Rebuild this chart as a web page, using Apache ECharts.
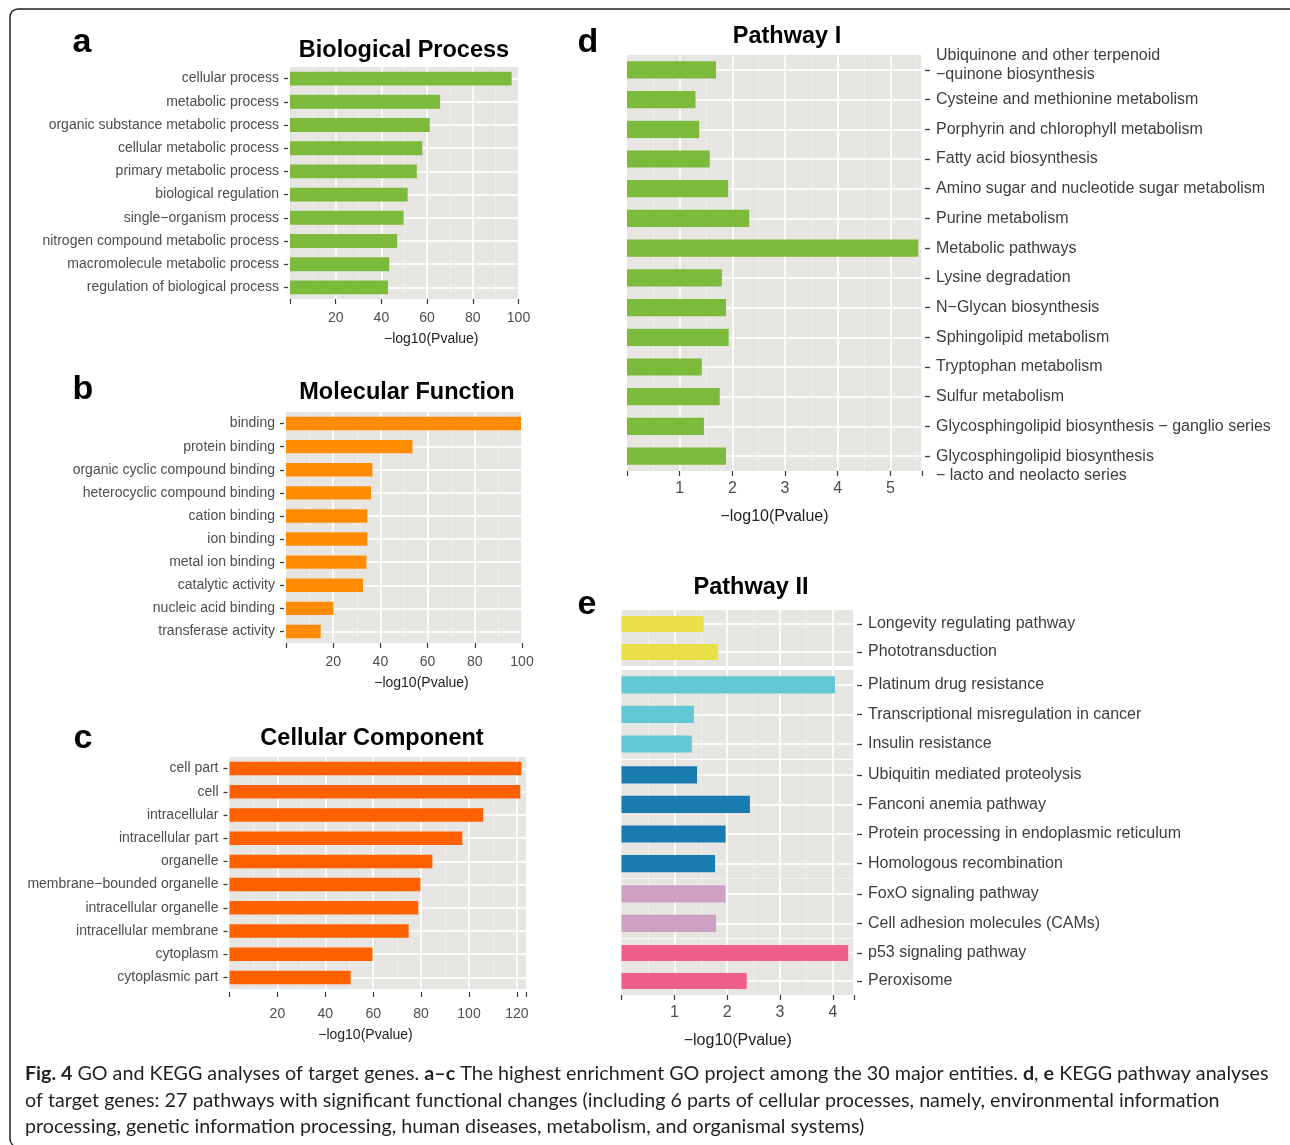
<!DOCTYPE html>
<html>
<head>
<meta charset="utf-8">
<script src="https://cdn.jsdelivr.net/npm/echarts@6/dist/echarts.min.js"></script>
<style>
  html, body { margin: 0; padding: 0; background: #ffffff; }
  #chart { width: 1290px; height: 1145px; }
</style>
</head>
<body>
<div id="chart"></div>
<script>
  // a - Biological Process
  const bpNames = ['cellular process', 'metabolic process', 'organic substance metabolic process', 'cellular metabolic process', 'primary metabolic process', 'biological regulation', 'single−organism process', 'nitrogen compound metabolic process', 'macromolecule metabolic process', 'regulation of biological process']
  const bpValues = [97.0, 65.7, 61.1, 57.9, 55.5, 51.5, 49.7, 46.9, 43.4, 42.9]

  // b - Molecular Function
  const mfNames = ['binding', 'protein binding', 'organic cyclic compound binding', 'heterocyclic compound binding', 'cation binding', 'ion binding', 'metal ion binding', 'catalytic activity', 'nucleic acid binding', 'transferase activity']
  const mfValues = [99.6, 53.6, 36.6, 36.0, 34.5, 34.5, 34.1, 32.6, 20.1, 14.7]

  // c - Cellular Component
  const ccNames = ['cell part', 'cell', 'intracellular', 'intracellular part', 'organelle', 'membrane−bounded organelle', 'intracellular organelle', 'intracellular membrane', 'cytoplasm', 'cytoplasmic part']
  const ccValues = [121.9, 121.4, 105.9, 97.2, 84.7, 79.7, 78.8, 74.8, 59.7, 50.6]

  // d - Pathway I
  const p1Names = ['Ubiquinone and other terpenoid\n−quinone biosynthesis', 'Cysteine and methionine metabolism', 'Porphyrin and chlorophyll metabolism', 'Fatty acid biosynthesis', 'Amino sugar and nucleotide sugar metabolism', 'Purine metabolism', 'Metabolic pathways', 'Lysine degradation', 'N−Glycan biosynthesis', 'Sphingolipid metabolism', 'Tryptophan metabolism', 'Sulfur metabolism', 'Glycosphingolipid biosynthesis − ganglio series', 'Glycosphingolipid biosynthesis\n− lacto and neolacto series']
  const p1Values = [1.69, 1.30, 1.37, 1.57, 1.92, 2.32, 5.53, 1.80, 1.88, 1.93, 1.42, 1.76, 1.46, 1.88]

  // e - Pathway II (grouped in facets)
  const p2Names = ['Longevity regulating pathway', 'Phototransduction', 'Platinum drug resistance', 'Transcriptional misregulation in cancer', 'Insulin resistance', 'Ubiquitin mediated proteolysis', 'Fanconi anemia pathway', 'Protein processing in endoplasmic reticulum', 'Homologous recombination', 'FoxO signaling pathway', 'Cell adhesion molecules (CAMs)', 'p53 signaling pathway', 'Peroxisome']
  const p2Values = [1.55, 1.83, 4.04, 1.37, 1.33, 1.43, 2.43, 1.97, 1.77, 1.97, 1.79, 4.29, 2.37]
  const p2Groups = [0, 0, 1, 1, 1, 2, 2, 2, 2, 3, 3, 4, 4]

  // tick labels
  const goTicks = [20, 40, 60, 80, 100]
  const ccTicks = [20, 40, 60, 80, 100, 120]
  const p1Ticks = [1, 2, 3, 4, 5]
  const p2Ticks = [1, 2, 3, 4]

  const FONT = "'Liberation Sans', Arial, sans-serif"
  const TEXT = '#4d4d4d'
  const PANEL_BG = '#e6e5e2'
  const TICK = '#3a3a3a'
  const p2Colors = ['#e8e046', '#62c8d6', '#1a7bb1', '#cea0c1', '#ef5f8a']

  const option = {
    animation: false,
    grid: [],
    xAxis: [],
    yAxis: [],
    series: [],
    graphic: []
  }

  function addPanel(p) {
    const i = option.grid.length
    const right = p.side === 'right'
    option.grid.push({
      left: p.left,
      top: p.top,
      width: p.width,
      height: p.height,
      show: true,
      backgroundColor: PANEL_BG,
      borderWidth: 0,
      containLabel: false,
      outerBoundsMode: 'none'
    })
    const showX = p.showX !== false
    option.xAxis.push({
      gridIndex: i,
      type: 'value',
      min: 0,
      max: p.max,
      interval: p.ticks[1] - p.ticks[0],
      offset: p.xOffset || 0,
      name: showX ? '−log10(Pvalue)' : '',
      nameLocation: 'middle',
      nameGap: p.nameGap,
      nameTextStyle: {
        color: '#222',
        fontSize: p.fontSize,
        fontFamily: FONT,
        padding: p.namePad || 0
      },
      axisLine: { show: false, onZero: false },
      axisTick: {
        show: showX,
        length: 5,
        lineStyle: { color: TICK, width: 1.2 }
      },
      axisLabel: {
        show: showX,
        color: TEXT,
        fontSize: p.fontSize,
        fontFamily: FONT,
        margin: p.labelMargin,
        formatter: function (v) {
          return p.ticks.indexOf(Math.round(v * 1000) / 1000) >= 0 ? String(v) : ''
        }
      },
      splitLine: {
        show: true,
        showMinLine: false,
        lineStyle: { color: '#ffffff', width: 1.6 }
      },
      minorTick: { show: false, splitNumber: 2 },
      minorSplitLine: {
        show: true,
        lineStyle: { color: '#f1f1ef', width: 0.8 }
      }
    })
    option.yAxis.push({
      gridIndex: i,
      type: 'category',
      data: p.names,
      inverse: true,
      position: p.side,
      offset: right ? 3 : 2,
      axisLine: { show: false, onZero: false },
      axisTick: {
        show: true,
        inside: false,
        alignWithLabel: true,
        length: right ? 5 : 4,
        lineStyle: { color: TICK, width: 1.3 }
      },
      axisLabel: {
        color: right ? '#3d3d3d' : TEXT,
        fontSize: p.labelSize,
        fontFamily: FONT,
        margin: right ? 11 : 9,
        lineHeight: 19,
        interval: 0,
        formatter: p.yFormatter,
        rich: {
          s: { fontSize: 8, lineHeight: 10 },
          f: { fontSize: 8, lineHeight: 19 }
        }
      },
      splitLine: {
        show: true,
        alignWithLabel: true,
        lineStyle: { color: '#ffffff', width: 1.6 }
      }
    })
    option.series.push({
      type: 'bar',
      xAxisIndex: i,
      yAxisIndex: i,
      data: p.values,
      barWidth: p.barWidth || '58%',
      silent: true,
      itemStyle: { color: p.color }
    })
  }

  // a
  addPanel({
    names: bpNames, values: bpValues, ticks: goTicks, max: 100,
    left: 290, top: 67, width: 228.5, height: 232,
    side: 'left', color: '#7bba3a', barWidth: '60%',
    fontSize: 14, labelSize: 14, labelMargin: 12, nameGap: 33, namePad: [0, 0, 0, 54]
  })
  // b
  addPanel({
    names: mfNames, values: mfValues, ticks: goTicks, max: 100,
    left: 286, top: 412, width: 236, height: 231,
    side: 'left', color: '#ff8c00',
    fontSize: 14, labelSize: 14, labelMargin: 12, nameGap: 33, namePad: [0, 0, 0, 35]
  })
  // c
  addPanel({
    names: ccNames, values: ccValues, ticks: ccTicks, max: 124,
    left: 229.5, top: 757, width: 297, height: 232,
    side: 'left', color: '#ff6100', xOffset: 3,
    fontSize: 14, labelSize: 14, labelMargin: 15, nameGap: 36, namePad: [0, 25, 0, 0]
  })
  // d
  addPanel({
    names: p1Names, values: p1Values, ticks: p1Ticks, max: 5.6,
    left: 627, top: 55, width: 295, height: 416,
    side: 'right', color: '#7bba3a',
    fontSize: 16, labelSize: 16, labelMargin: 10, nameGap: 38,
    yFormatter: function (v, idx) {
      if (idx === 0) return v + '\n{s| }'
      if (idx === p1Names.length - 1) return '{f| }\n' + v
      return v
    }
  })
  // e - one facet per group
  const facetTops = [610, 670, 760, 879, 939]
  const facetCount = p2Colors.length
  for (let g = 0; g < facetCount; g++) {
    const names = p2Names.filter((n, k) => p2Groups[k] === g)
    const values = p2Values.filter((n, k) => p2Groups[k] === g)
    const last = g === facetCount - 1
    addPanel({
      names: names, values: values, ticks: p2Ticks, max: 4.4,
      left: 621.5, top: facetTops[g], width: 232.5,
      height: (g === 0 || last) ? 56 : names.length * 29.6,
      side: 'right', color: p2Colors[g], showX: last,
      fontSize: 16, labelSize: 16, labelMargin: 10, nameGap: 38
    })
  }

  function label(text, x, y, size, weight, align) {
    option.graphic.push({
      type: 'text',
      x: x,
      y: y,
      silent: true,
      style: {
        text: text,
        fontSize: size,
        fontWeight: weight || 'bold',
        fontFamily: FONT,
        fill: '#000',
        align: align || 'center',
        verticalAlign: 'middle'
      }
    })
  }

  // frame
  option.graphic.push({
    type: 'rect',
    silent: true,
    shape: { x: 10, y: 9, width: 1292, height: 1138, r: 8 },
    style: { fill: 'none', stroke: '#222', lineWidth: 1.5 }
  })

  // panel letters and titles
  label('a', 82, 43, 34)
  label('b', 83, 390, 34)
  label('c', 83, 739, 34)
  label('d', 588, 43, 34)
  label('e', 587, 605, 34)
  label('Biological Process', 404, 51, 23.5)
  label('Molecular Function', 407, 393, 23.5)
  label('Cellular Component', 372, 739, 23.5)
  label('Pathway I', 787, 37, 23.5)
  label('Pathway II', 751, 588, 23.5)

  // caption
  const capLines = [
    '{b|Fig. 4} GO and KEGG analyses of target genes. {b|a–c} The highest enrichment GO project among the 30 major entities. {b|d}, {b|e} KEGG pathway analyses',
    'of target genes: 27 pathways with significant functional changes (including 6 parts of cellular processes, namely, environmental information',
    'processing, genetic information processing, human diseases, metabolism, and organismal systems)'
  ]
  const capY = [1074, 1101, 1127]
  capLines.forEach(function (t, k) {
    option.graphic.push({
      type: 'text',
      x: 25,
      y: capY[k],
      silent: true,
      style: {
        text: t,
        fontSize: 19.7,
        fontFamily: 'Lato, sans-serif',
        fill: '#231f20',
        align: 'left',
        verticalAlign: 'middle',
        rich: {
          b: { fontSize: 19.7, fontFamily: 'Lato, sans-serif', fontWeight: 'bold', fill: '#231f20' }
        }
      }
    })
  })

  const chart = echarts.init(document.getElementById('chart'))
  chart.setOption(option)
</script>
</body>
</html>
